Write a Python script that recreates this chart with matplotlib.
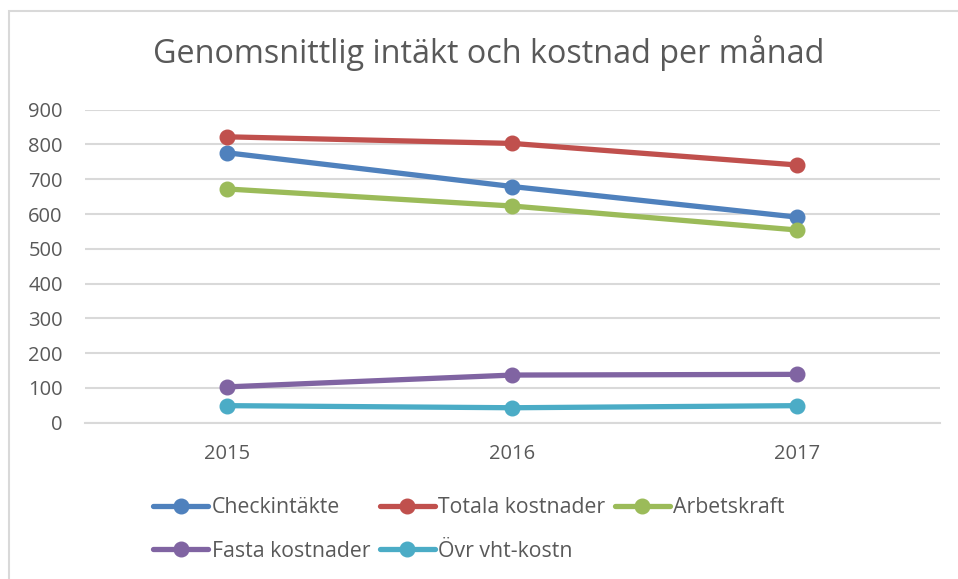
import matplotlib
matplotlib.use("Agg")
import matplotlib.pyplot as plt
from matplotlib.patches import Rectangle

years = ["2015", "2016", "2017"]
checkintakte = [776, 679, 591]
totala_kostnader = [822, 803, 741]
arbetskraft = [672, 623, 554]
fasta_kostnader = [103, 137, 139]
ovr_vht_kostn = [49, 43, 49]

series_names = ["Checkintäkte", "Totala kostnader", "Arbetskraft",
                "Fasta kostnader", "Övr vht-kostn"]
series_values = [checkintakte, totala_kostnader, arbetskraft,
                 fasta_kostnader, ovr_vht_kostn]
colors = ["#4F81BD", "#C0504D", "#9BBB59", "#8064A2", "#4BACC6"]
y_ticks = [0, 100, 200, 300, 400, 500, 600, 700, 800, 900]

FONT = "Open Sans"
TXT = "#595959"
GRID = "#D9D9D9"

W, H = 958, 579
fig = plt.figure(figsize=(W / 100, H / 100), dpi=100)
fig.patch.set_facecolor("white")

# chart border
fig.patches.append(Rectangle((9 / W, -0.05), 1.2, 1 - 11 / H + 0.05,
                             transform=fig.transFigure, fill=False,
                             edgecolor="#D9D9D9", linewidth=1.5))

ax = fig.add_axes([85 / W, 1 - 422.7 / H, (940 - 85) / W, (422.7 - 109.7) / H])
x = list(range(len(years)))
handles = []
for name, vals, c in zip(series_names, series_values, colors):
    h, = ax.plot(x, vals, color=c, linewidth=3.8, marker="o",
                 markersize=10.5, solid_capstyle="round", label=name, zorder=3)
    handles.append(h)

ax.set_xlim(-0.5, len(years) - 0.5)
ax.set_ylim(0, 900)
ax.set_yticks(y_ticks)
ax.set_xticks(x)
ax.set_xticklabels(years)
ax.grid(axis="y", color=GRID, linewidth=1.5, zorder=0)
for s in ["top", "right", "left"]:
    ax.spines[s].set_visible(False)
ax.spines["bottom"].set_color(GRID)
ax.spines["bottom"].set_linewidth(1.5)
ax.tick_params(length=0, labelsize=14.5, labelcolor=TXT)
ax.tick_params(axis="y", pad=16)
ax.tick_params(axis="x", pad=15)
for lab in ax.get_xticklabels() + ax.get_yticklabels():
    lab.set_family(FONT)

fig.text(489 / W, 1 - 53 / H, "Genomsnittlig intäkt och kostnad per månad",
         ha="center", va="center", fontsize=23.3, color=TXT, family=FONT)

order = [0, 3, 1, 4, 2]
leg = fig.legend([handles[i] for i in order], [series_names[i] for i in order],
                 ncol=3, loc="upper left", bbox_to_anchor=(134 / W, 1 - 478 / H),
                 frameon=False, handlelength=2.6, handletextpad=0.15,
                 columnspacing=0.45, labelspacing=1.07,
                 prop={"family": FONT, "size": 15.3})
for t in leg.get_texts():
    t.set_color(TXT)

fig.savefig("out.png", dpi=100, facecolor="white")
